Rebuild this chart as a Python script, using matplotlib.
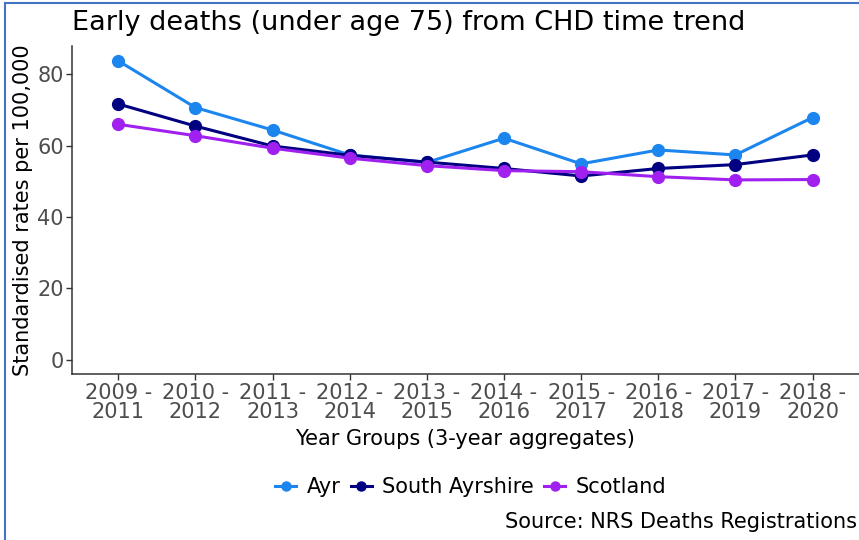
import matplotlib.pyplot as plt
from matplotlib.lines import Line2D

years = ["2009 -\n2011", "2010 -\n2012", "2011 -\n2013", "2012 -\n2014", "2013 -\n2015",
         "2014 -\n2016", "2015 -\n2017", "2016 -\n2018", "2017 -\n2019", "2018 -\n2020"]
ayr = [83.8, 70.7, 64.4, 57.4, 55.3, 62.1, 54.9, 58.8, 57.4, 67.9]
south_ayrshire = [71.7, 65.5, 59.9, 57.3, 55.4, 53.6, 51.5, 53.6, 54.7, 57.4]
scotland = [66.0, 62.8, 59.3, 56.5, 54.4, 53.0, 52.7, 51.3, 50.4, 50.5]

series = [("Ayr", ayr, "#1C86EE"),
          ("South Ayrshire", south_ayrshire, "#000080"),
          ("Scotland", scotland, "#A020F0")]

fig = plt.figure(figsize=(8.59, 5.40), dpi=100)
ax = fig.add_axes([0.0838, 0.3065, 0.916, 0.6085])

x = list(range(len(years)))
for name, vals, col in series:
    ax.plot(x, vals, "-o", color=col, lw=2.2, ms=8.5, label=name)

ax.set_xlim(-0.6, len(years) - 0.4)
ax.set_ylim(-4.2, 88)
ax.set_xticks(x)
ax.set_xticklabels(years, fontsize=15, color="#4d4d4d", linespacing=0.95)
ax.set_yticks([0, 20, 40, 60, 80])
ax.set_yticklabels(["0", "20", "40", "60", "80"], fontsize=15, color="#4d4d4d")
ax.tick_params(length=4, width=1, color="#333333", pad=2)
for s in ["top", "right"]:
    ax.spines[s].set_visible(False)
for s in ["left", "bottom"]:
    ax.spines[s].set_linewidth(1.1)
    ax.spines[s].set_color("#333333")

ax.set_xlabel("Year Groups (3-year aggregates)", fontsize=15, labelpad=5)
ax.set_ylabel("Standardised rates per 100,000", fontsize=15, labelpad=3)
fig.text(0.0838, 0.958, "Early deaths (under age 75) from CHD time trend",
         fontsize=19.5, ha="left", va="center")

handles = [Line2D([], [], color=c, marker="o", lw=2.2, ms=6.5) for _, _, c in series]
fig.legend(handles, [n for n, _, _ in series], loc="center", bbox_to_anchor=(0.548, 0.098),
           ncol=3, frameon=False, fontsize=15, handlelength=1.0, handletextpad=0.5,
           columnspacing=0.5)
fig.text(0.998, 0.033, "Source: NRS Deaths Registrations", fontsize=15, ha="right", va="center")

# blue frame edges (left and top) around the picture
fig.add_artist(Line2D([0.0058, 0.0058], [0, 0.9944], color="#4472C4", lw=1.5,
                      transform=fig.transFigure))
fig.add_artist(Line2D([0.0058, 1], [0.9944, 0.9944], color="#4472C4", lw=1.5,
                      transform=fig.transFigure))

fig.savefig("out.png", dpi=100)
